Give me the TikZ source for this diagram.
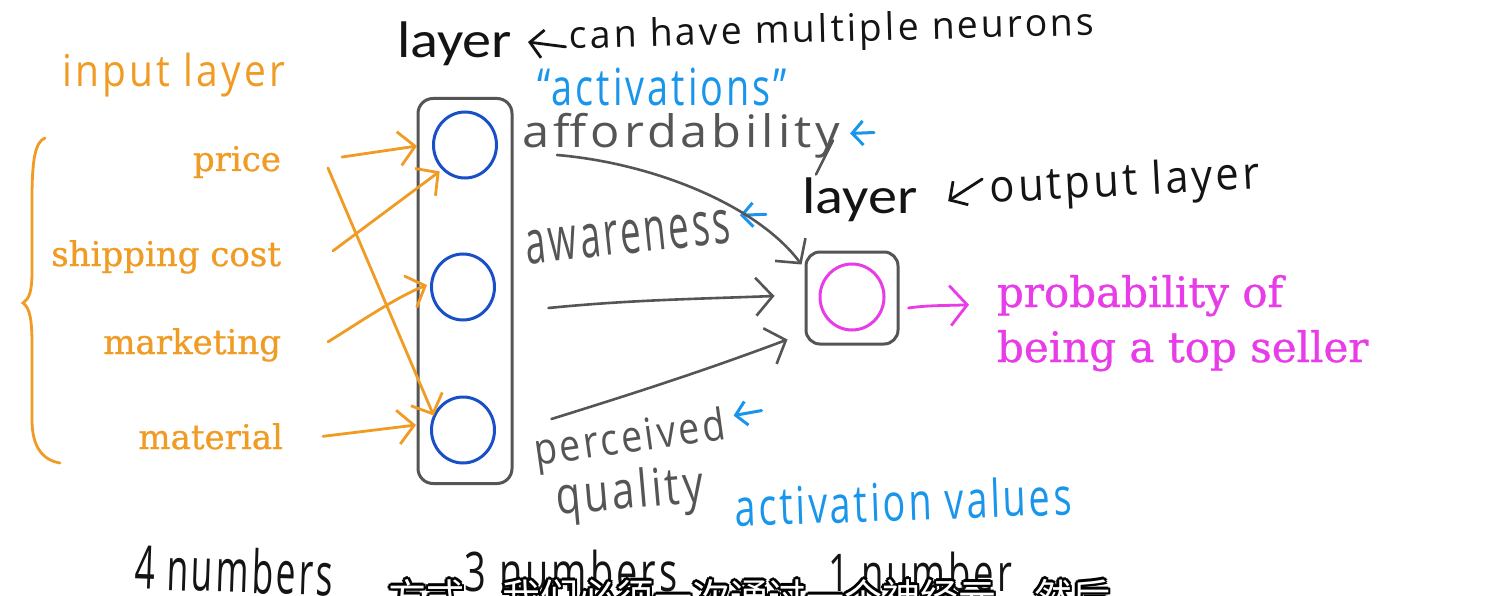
\documentclass[tikz,border=0pt]{standalone}
\usepackage{fontspec}
\usepackage{graphicx}
\usetikzlibrary{arrows.meta,shapes.geometric,calc}
\newfontfamily\hand[LetterSpace=8]{Open Sans}
\newfontfamily\serifx[FakeBold=0.8]{DejaVu Serif}
\newfontfamily\calib{Carlito}
\newfontfamily\cjk{Noto Sans CJK SC}
\newcommand\hw[3]{\resizebox*{#1pt}{#2pt}{\hand\fontsize{30}{36}\selectfont #3}}
\newcommand\cw[3]{\resizebox*{#1pt}{#2pt}{\calib\fontsize{40}{48}\selectfont #3}}
\definecolor{orng}{RGB}{240,155,35}
\definecolor{nblue}{RGB}{25,80,200}
\definecolor{lblue}{RGB}{25,150,235}
\definecolor{mag}{RGB}{232,60,232}
\definecolor{grayc}{RGB}{85,85,85}
\definecolor{inkc}{RGB}{20,20,20}
\tikzset{
  ohead/.tip={Straight Barb[length=16pt,width=34pt,line width=2.8pt]},
  ghead/.tip={Straight Barb[length=17pt,width=38pt,line width=2.6pt]},
  mhead/.tip={Straight Barb[length=17pt,width=40pt,line width=2.8pt]},
  bhead/.tip={Straight Barb[length=11pt,width=24pt,line width=3pt]},
  khead/.tip={Straight Barb[length=13pt,width=28pt,line width=2.8pt]}
}
\begin{document}
\begin{tikzpicture}[x=1pt,y=-1pt,
  lbl/.style={inner sep=0pt,outer sep=0pt},
  inputtxt/.style={lbl,anchor=base east,text=orng,font=\serifx\fontsize{34}{40}\selectfont},
  outtxt/.style={lbl,anchor=base west,text=mag,font=\serifx\fontsize{42}{50}\selectfont},
  layerbox/.style={draw=grayc,line width=3pt,rounded corners=15pt},
  neuron/.style={draw=nblue,line width=3pt,ellipse,inner sep=0pt,minimum width=63pt,minimum height=66pt},
  outneuron/.style={draw=mag,line width=3pt,ellipse,inner sep=0pt,minimum width=64pt,minimum height=66pt},
  inarrow/.style={draw=orng,line width=2.8pt,line cap=round,-ohead},
  grarrow/.style={draw=grayc,line width=2.6pt,line cap=round,-ghead},
  magarrow/.style={draw=mag,line width=2.8pt,line cap=round,-mhead},
  bluemark/.style={draw=lblue,line width=3pt,line cap=round,-bhead},
  inkmark/.style={draw=inkc,line width=2.8pt,line cap=round,-khead},
  subtxt/.style={lbl,anchor=base west,font=\cjk\fontsize{38}{40}\selectfont}
]
\fill[white] (0,0) rectangle (1485,596);
\useasboundingbox (0,0) rectangle (1485,596);

% ---------- titles ----------
\node[lbl,text=inkc] (hidlayer) at (454.5,44) {\cw{115}{44}{layer}};
\node[lbl,text=inkc,rotate=1.5] (canhave) at (832,32) {\hw{525}{38}{can have multiple neurons}};
\draw[inkmark] ($(canhave.west)+(-4,8)$) -- ($(hidlayer.east)+(16,-2)$);

\node[lbl,text=orng] (inlayer) at (174,75) {\hw{222}{44}{input layer}};

% ---------- brace ----------
\draw[orng,line width=2.8pt,line cap=round]
  (45,138) .. controls (35,142) and (32,160) .. (32,200) -- (32,272)
  .. controls (32,292) and (29,299) .. (23,303)
  .. controls (30,308) and (32,320) .. (32,345) -- (32,420)
  .. controls (32,446) and (42,460) .. (60,463);

% ---------- inputs ----------
\node[inputtxt] (price) at (281,171) {price};
\node[inputtxt] (ship) at (281,266) {shipping cost};
\node[inputtxt] (mkt) at (281,354) {marketing};
\node[inputtxt] (mat) at (283,449) {material};

% ---------- hidden layer ----------
\node[layerbox,minimum width=94pt,minimum height=385pt] (hid) at (465,291) {};
\node[neuron] (n1) at (465,145) {};
\node[neuron] (n2) at (463,287) {};
\node[neuron] (n3) at (463,430) {};

% ---------- orange arrows ----------
\draw[inarrow] ($(price.east)+(61,-5)$) -- ($(n1.west)+(-15,1)$);
\draw[inarrow] ($(ship.east)+(52,-6)$) -- ($(n1.south west)+(-2,2)$);
\draw[inarrow] ($(price.east)+(47,6)$) -- ($(n3.north west)+(-6,10)$);
\draw[inarrow] ($(mkt.east)+(47,-3)$) .. controls +(40,-25) and +(-30,12) .. ($(n2.west)+(-3,-2)$);
\draw[inarrow] ($(mat.east)+(40,0)$) -- ($(n3.west)+(-14,-5)$);

% ---------- activation labels ----------
\node[lbl,text=lblue] (actq) at (662,87) {\hw{250}{38}{“activations”}};
\node[lbl,text=grayc] (afford) at (681.5,135.5) {\hw{317}{45}{affordability}};
\draw[grayc,line width=2.6pt,line cap=round] ($(afford.east)+(-7,5)$) -- ($(afford.east)+(-24,39)$);
\draw[bluemark] ($(afford.east)+(34,-3)$) -- ($(afford.east)+(10,-2)$);

\node[lbl,text=grayc,rotate=6] (aware) at (628,237) {\hw{205}{34}{awareness}};
\draw[bluemark] ($(aware.east)+(36,-12)$) -- ($(aware.east)+(10,-11)$);

\node[lbl,text=grayc,rotate=8] (perc) at (630,441) {\hw{193}{44}{perceived}};
\draw[bluemark] ($(perc.east)+(36,-17)$) -- ($(perc.east)+(8,-12)$);
\node[lbl,text=grayc,rotate=5] (qual) at (630,495) {\hw{148}{52}{quality}};

\node[lbl,text=lblue,rotate=2] (actv) at (903,501) {\hw{337}{40}{activation values}};

% ---------- output layer ----------
\node[lbl,text=inkc] (outlayer) at (860,200) {\cw{115}{44}{layer}};
\node[lbl,text=inkc,rotate=3] (outlbl) at (1125,184) {\hw{270}{45}{output layer}};
\draw[inkmark] ($(outlbl.west)+(-8,-12)$) -- ($(outlbl.west)+(-42,10)$);

\node[layerbox,rounded corners=14pt,minimum width=92pt,minimum height=92pt] (out) at (852,298) {};
\node[outneuron] (on) at (852,297) {};

% ---------- gray arrows ----------
\draw[grarrow] ($(afford.south west)+(34,-3)$) .. controls +(95,8) and +(-45,-60) .. ($(out.north west)+(-3,14)$);
\draw[grarrow] ($(hid.east)+(35,17)$) .. controls +(80,-8) and +(-80,3) .. ($(out.west)+(-30,-2)$);
\draw[grarrow] ($(hid.east)+(38,128)$) .. controls +(90,-28) and +(-80,30) .. ($(out.south west)+(-17,-6)$);

% ---------- output text ----------
\node[outtxt] (prob) at (997,307) {probability of};
\node[outtxt] (seller) at (997,362) {being a top seller};
\draw[magarrow] ($(out.east)+(9,10)$) .. controls +(20,-3) and +(-20,1) .. ($(prob.west)+(-28,9)$);

% ---------- counts ----------
\node[lbl,text=inkc,rotate=-2] (c4) at (234,570) {\hw{198}{46}{4 numbers}};
\node[lbl,text=inkc] (c3) at (571,571) {\hw{213}{42}{3 numbers}};
\node[lbl,text=inkc] (c1) at (920,572) {\hw{184}{40}{1 number}};

% ---------- subtitle (cut off) ----------
\begin{scope}
\clip (0,0) rectangle (1485,596);
\foreach \dx/\dy [count=\k] in {-2/-2,0/-2.6,2/-2,-2.6/0,2.6/0,-2/2,0/2.6,2/2}
  \node[subtxt,text=black] (subo\k) at (388+\dx,611+\dy) {方式，我们必须一次通过一个神经元，然后};
\node[subtxt,text=white] (sub) at (388,611) {方式，我们必须一次通过一个神经元，然后};
\end{scope}
\end{tikzpicture}
\end{document}
